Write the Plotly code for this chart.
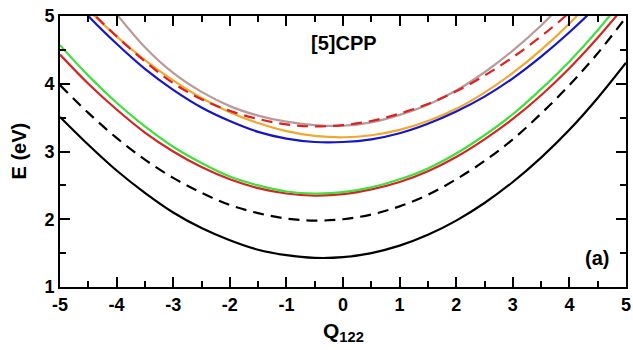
import plotly.graph_objects as go

# Q122 grid
q = [-5.0, -4.5, -4.0, -3.5, -3.0, -2.5, -2.0, -1.5, -1.0, -0.5, 0.0,
     0.5, 1.0, 1.5, 2.0, 2.5, 3.0, 3.5, 4.0, 4.5, 5.0]

# energies (eV)
e_black = [3.51, 3.10, 2.72, 2.39, 2.10, 1.87, 1.69, 1.55, 1.47, 1.43, 1.44,
           1.50, 1.61, 1.77, 1.98, 2.24, 2.55, 2.91, 3.32, 3.79, 4.31]
e_black_dash = [3.98, 3.57, 3.20, 2.88, 2.61, 2.39, 2.21, 2.09, 2.01, 1.98, 2.00,
                2.07, 2.19, 2.36, 2.59, 2.86, 3.18, 3.56, 3.98, 4.45, 4.98]
e_red = [4.43, 4.00, 3.62, 3.28, 3.00, 2.77, 2.59, 2.46, 2.38, 2.35, 2.37,
         2.44, 2.55, 2.71, 2.92, 3.18, 3.48, 3.83, 4.23, 4.68, 5.17]
e_green = [4.57, 4.12, 3.72, 3.37, 3.07, 2.83, 2.63, 2.50, 2.41, 2.38, 2.40,
           2.47, 2.59, 2.75, 2.97, 3.24, 3.55, 3.92, 4.33, 4.79, 5.31]
e_blue = [5.47, 5.00, 4.59, 4.22, 3.91, 3.65, 3.45, 3.29, 3.19, 3.14, 3.14,
          3.18, 3.27, 3.41, 3.59, 3.81, 4.08, 4.40, 4.76, 5.16, 5.61]
e_orange = [5.54, 5.09, 4.70, 4.35, 4.05, 3.79, 3.58, 3.42, 3.30, 3.23, 3.21,
            3.24, 3.32, 3.45, 3.63, 3.87, 4.16, 4.50, 4.89, 5.34, 5.84]
e_red_dash = [5.58, 5.11, 4.70, 4.33, 4.01, 3.77, 3.60, 3.48, 3.40, 3.37, 3.39,
              3.45, 3.56, 3.70, 3.89, 4.12, 4.39, 4.70, 5.05, 5.45, 5.88]
e_grey = [6.20, 5.58, 5.03, 4.54, 4.16, 3.88, 3.67, 3.53, 3.44, 3.39, 3.38,
          3.43, 3.54, 3.69, 3.90, 4.17, 4.49, 4.86, 5.29, 5.75, 6.25]

x_ticks = [-5, -4, -3, -2, -1, 0, 1, 2, 3, 4, 5]
y_ticks = [1, 2, 3, 4, 5]

series = [
    (e_grey, "#b89a9a", "solid"),
    (e_orange, "#f2a72e", "solid"),
    (e_blue, "#1616c8", "solid"),
    (e_red_dash, "#dd2020", "dash"),
    (e_red, "#d42424", "solid"),
    (e_green, "#3ee03e", "solid"),
    (e_black_dash, "#000000", "dash"),
    (e_black, "#000000", "solid"),
]

fig = go.Figure()
for ys, col, dash in series:
    fig.add_trace(go.Scatter(
        x=q, y=ys, mode="lines",
        line=dict(color=col, width=2.2, dash="11px,7px" if dash == "dash" else "solid",
                  shape="spline", smoothing=1.0),
        showlegend=False, hoverinfo="skip"))

font_fam = "Liberation Sans, Arial, sans-serif"
axis_common = dict(
    showgrid=False, zeroline=False, showline=True, linecolor="black", linewidth=2,
    mirror="allticks", ticks="inside", ticklen=10, tickwidth=2, tickcolor="black",
    tickmode="array", automargin=False,
    tickfont=dict(family=font_fam, size=18, color="black", weight="bold"),
)

fig.update_xaxes(range=[-5, 5], tickvals=x_ticks, ticktext=[str(v) for v in x_ticks],
                 minor=dict(ticks="inside", ticklen=6, tickwidth=2, tickcolor="black",
                            tickmode="linear", tick0=-5, dtick=0.5),
                 **axis_common)
fig.update_yaxes(range=[1, 5], tickvals=y_ticks, ticktext=[str(v) for v in y_ticks],
                 minor=dict(ticks="inside", ticklen=6, tickwidth=2, tickcolor="black",
                            tickmode="linear", tick0=1, dtick=0.5),
                 **axis_common)

fig.update_layout(
    width=633, height=350,
    margin=dict(l=60, r=7, t=16, b=63),
    paper_bgcolor="white", plot_bgcolor="white",
    font=dict(family=font_fam, color="black"),
    annotations=[
        dict(text="[5]CPP", x=0.02, y=4.60, xref="x", yref="y", showarrow=False,
             font=dict(family=font_fam, size=20, weight="bold")),
        dict(text="(a)", x=4.48, y=1.43, xref="x", yref="y", showarrow=False,
             font=dict(family=font_fam, size=20, weight="bold")),
        dict(text="Q<sub>122</sub>", x=0.5, y=0, xref="paper", yref="paper",
             xanchor="center", yanchor="top", yshift=-30, showarrow=False,
             font=dict(family=font_fam, size=21, weight="bold")),
        dict(text="E (eV)", x=0, y=0.5, xref="paper", yref="paper", textangle=-90,
             xanchor="center", yanchor="middle", xshift=-42, showarrow=False,
             font=dict(family=font_fam, size=20, weight="bold")),
    ],
)

fig.write_html(
    "out.html",
    config={"displayModeBar": False},
    post_script="document.body.style.margin='0';document.body.style.overflow='hidden';",
)
